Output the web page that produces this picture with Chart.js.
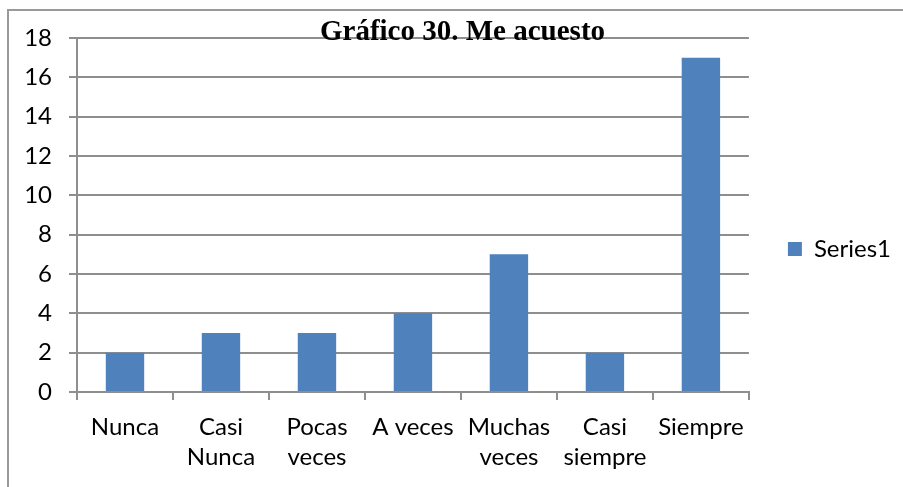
<!DOCTYPE html>
<html>
<head>
<meta charset="utf-8">
<script src="https://cdn.jsdelivr.net/npm/chart.js@4/dist/chart.umd.min.js"></script>
<style>
  html, body { margin: 0; padding: 0; background: #fff; }
  #wrap { position: relative; width: 903px; height: 487px; }
  #frame { position: absolute; left: 7px; top: 9px; right: 0; bottom: 0;
           border-top: 2px solid #9a9a9a; border-left: 2px solid #9a9a9a; pointer-events: none; }
  canvas { position: absolute; left: 0; top: 0; }
</style>
</head>
<body>
<div id="wrap">
  <canvas id="c" width="903" height="487"></canvas>
  <div id="frame"></div>
</div>
<script>
const chartTitle = 'Gráfico 30. Me acuesto';
const categories = [['Nunca'], ['Casi', 'Nunca'], ['Pocas', 'veces'], ['A veces'], ['Muchas', 'veces'], ['Casi', 'siempre'], ['Siempre']];
const seriesName = 'Series1';
const values = [2, 3, 3, 4, 7, 2, 17];
const yMin = 0, yMax = 18, yStep = 2;

const gridColor = '#8e8e8e';
const labelFont = { family: 'Lato', size: 24, lineHeight: 1.28 };
const padL = 24, padR = 2, padB = -11;

new Chart(document.getElementById('c'), {
  type: 'bar',
  data: {
    labels: categories,
    datasets: [{
      label: seriesName,
      data: values,
      backgroundColor: '#4F81BD',
      borderWidth: 0,
      barPercentage: 0.4,
      categoryPercentage: 1.0
    }]
  },
  options: {
    responsive: false,
    animation: false,
    devicePixelRatio: 1,
    layout: { padding: { left: padL, right: padR, top: 0, bottom: padB } },
    plugins: {
      title: {
        display: true,
        text: chartTitle,
        color: '#000',
        font: { family: 'Liberation Serif', size: 29, weight: 'bold', lineHeight: 0.4 },
        padding: { top: 26.4, bottom: 0 }
      },
      legend: {
        display: true,
        position: 'right',
        align: 'center',
        labels: {
          boxWidth: 14,
          boxHeight: 14,
          padding: 39,
          color: '#000',
          font: labelFont
        }
      },
      tooltip: { enabled: false }
    },
    scales: {
      x: {
        grid: { display: true, drawOnChartArea: false, drawTicks: true, tickLength: 8, color: gridColor, lineWidth: 2, offset: true },
        border: { display: true, color: gridColor, width: 2 },
        ticks: { color: '#000', font: labelFont, padding: 11.5, maxRotation: 0, autoSkip: false },
        afterFit: (s) => { s.height = 95 - padB; }
      },
      y: {
        min: yMin,
        max: yMax,
        grid: { display: true, drawTicks: true, tickLength: 8, color: gridColor, lineWidth: 2 },
        border: { display: true, color: gridColor, width: 2 },
        ticks: { stepSize: yStep, color: '#000', font: labelFont, padding: 17 },
        afterFit: (s) => { s.width = 77 - padL; }
      }
    }
  }
});
</script>
</body>
</html>
